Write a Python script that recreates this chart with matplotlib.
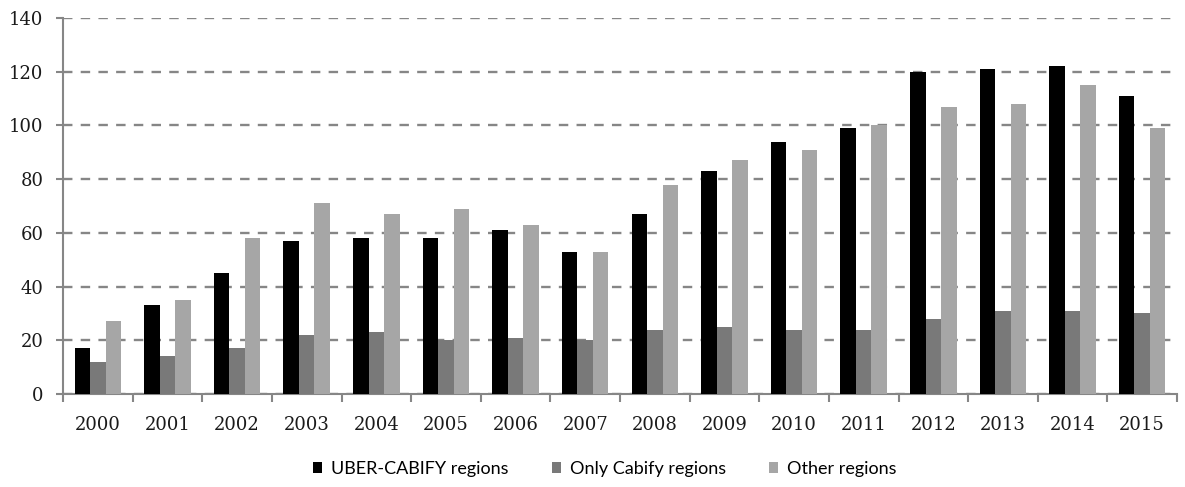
import numpy as np
import matplotlib.pyplot as plt

# Datos por año y tipo de región
anios = ['2000', '2001', '2002', '2003', '2004', '2005', '2006', '2007',
         '2008', '2009', '2010', '2011', '2012', '2013', '2014', '2015']
uber_cabify = [17, 33, 45, 57, 58, 58, 61, 53, 67, 83, 94, 99, 120, 121, 122, 111]
solo_cabify = [12, 14, 17, 22, 23, 20, 21, 20, 24, 25, 24, 24, 28, 31, 31, 30]
otras = [27, 35, 58, 71, 67, 69, 63, 53, 78, 87, 91, 100, 107, 108, 115, 99]

series = [
    (uber_cabify, 'UBER-CABIFY regions', '#000000'),
    (solo_cabify, 'Only Cabify regions', '#797979'),
    (otras, 'Other regions', '#a6a6a6'),
]

fig = plt.figure(figsize=(11.85, 4.87), dpi=100)
ax = fig.add_axes([63 / 1185, 1 - 394 / 487, (1177 - 63) / 1185, (394 - 18) / 487])

x = np.arange(len(anios))
ancho = 0.223
for i, (valores, nombre, color) in enumerate(series):
    ax.bar(x + (i - 1) * ancho, valores, ancho, color=color, label=nombre, zorder=3)

gris = '#868686'
ax.set_xlim(-0.5, len(anios) - 0.5)
ax.set_ylim(0, 140)
ax.set_yticks(np.arange(0, 141, 20))
ax.yaxis.grid(True, color=gris, linewidth=1.7, linestyle=(0, (4, 3.5)), zorder=0)
ax.set_axisbelow(True)

ax.set_xticks(x)
ax.set_xticklabels(anios)
ax.set_xticks(np.arange(-0.5, len(anios), 1), minor=True)
ax.tick_params(axis='x', which='major', length=0, pad=15.5)
ax.tick_params(axis='x', which='minor', length=6, width=1.5, color=gris)
ax.tick_params(axis='y', length=5, width=1.5, color=gris, pad=9)

for s in ['top', 'right']:
    ax.spines[s].set_visible(False)
for s in ['left', 'bottom']:
    ax.spines[s].set_color(gris)
    ax.spines[s].set_linewidth(1.5)

for lab in ax.get_xticklabels() + ax.get_yticklabels():
    lab.set_family(['DejaVu Serif'])
    lab.set_fontsize(13)
    lab.set_color('#1a1a1a')

fig.legend(loc='center', bbox_to_anchor=(605 / 1185, 1 - 469 / 487), ncol=3,
           frameon=False, handlelength=0.5, handleheight=0.5, handletextpad=0.5,
           columnspacing=2.4,
           prop={'family': ['Lato', 'DejaVu Sans'], 'size': 13})

plt.savefig('out.png', dpi=100)
